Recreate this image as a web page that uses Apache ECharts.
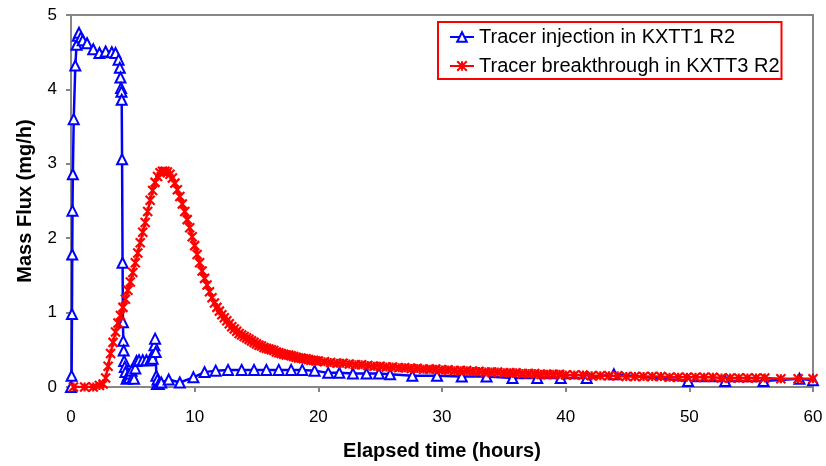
<!DOCTYPE html>
<html>
<head>
<meta charset="utf-8">
<script src="https://cdn.jsdelivr.net/npm/echarts@6/dist/echarts.min.js"></script>
<style>
html,body{margin:0;padding:0;background:#fff;}
#c{width:826px;height:466px;}
</style>
</head>
<body>
<div id="c"></div>
<script>
// ---- data ----
var seriesNames = ['Tracer injection in KXTT1 R2', 'Tracer breakthrough in KXTT3 R2'];
var xTicks = [0, 10, 20, 30, 40, 50, 60];
var yTicks = [0, 1, 2, 3, 4, 5];

var injTime = [0, 0.05, 0.08, 0.1, 0.12, 0.15, 0.22, 0.35, 0.45, 0.55, 0.65, 0.8, 0.95, 1.3, 1.8, 2.3, 2.8, 3.3, 3.6, 3.85, 3.95, 4.0, 4.05, 4.08, 4.1, 4.13, 4.17, 4.2, 4.23, 4.26, 4.3, 4.35, 4.4, 4.5, 4.6, 4.7, 4.8, 4.9, 5.0, 5.1, 5.2, 5.3, 5.5, 5.8, 6.1, 6.4, 6.6, 6.7, 6.75, 6.8, 6.85, 6.9, 6.95, 7.0, 7.1, 7.3, 7.9, 8.8, 9.9, 10.8, 11.7, 12.7, 13.8, 14.8, 15.8, 16.8, 17.8, 18.7, 19.7, 20.8, 21.7, 22.8, 23.9, 24.9, 25.8, 27.6, 29.6, 31.6, 33.6, 35.7, 37.7, 39.6, 41.7, 43.9, 49.9, 52.9, 56.0, 58.9, 60];
var injFlux = [0, 0.15, 0.98, 1.78, 2.37, 2.86, 3.6, 4.32, 4.6, 4.72, 4.76, 4.7, 4.66, 4.62, 4.54, 4.49, 4.51, 4.5, 4.49, 4.4, 4.29, 4.16, 4.02, 3.97, 3.86, 3.06, 1.67, 0.87, 0.62, 0.49, 0.35, 0.27, 0.2, 0.11, 0.15, 0.12, 0.18, 0.22, 0.13, 0.11, 0.25, 0.35, 0.36, 0.36, 0.36, 0.36, 0.38, 0.47, 0.56, 0.65, 0.47, 0.15, 0.04, 0.1, 0.04, 0.06, 0.1, 0.06, 0.13, 0.2, 0.22, 0.23, 0.23, 0.23, 0.23, 0.23, 0.23, 0.23, 0.22, 0.19, 0.19, 0.18, 0.18, 0.18, 0.17, 0.15, 0.15, 0.14, 0.14, 0.12, 0.12, 0.12, 0.12, 0.17, 0.08, 0.08, 0.08, 0.11, 0.09];

var brkTime = [0.2, 1.1, 1.8, 2.3, 2.6, 2.8, 3.0, 3.2, 3.4, 3.6, 3.8, 4.0, 4.2, 4.4, 4.6, 4.8, 5.0, 5.2, 5.4, 5.6, 5.8, 6.0, 6.2, 6.4, 6.6, 6.8, 7.0, 7.2, 7.4, 7.6, 7.8, 8.0, 8.2, 8.4, 8.6, 8.8, 9.0, 9.2, 9.4, 9.6, 9.8, 10.0, 10.2, 10.4, 10.6, 10.8, 11.0, 11.2, 11.4, 11.6, 11.8, 12.0, 12.2, 12.4, 12.6, 12.8, 13.0, 13.2, 13.4, 13.6, 13.8, 14.0, 14.2, 14.4, 14.6, 14.8, 15.0, 15.2, 15.4, 15.6, 15.8, 16.0, 16.2, 16.4, 16.6, 16.8, 17.0, 17.2, 17.4, 17.6, 17.8, 18.0, 18.2, 18.4, 18.6, 18.8, 19.0, 19.2, 19.4, 19.6, 19.8, 20.0, 20.5, 21, 21.5, 22, 22.5, 23, 23.5, 24, 24.5, 25, 25.5, 26, 26.5, 27, 27.5, 28, 28.5, 29, 29.5, 30, 30.5, 31, 31.5, 32, 32.5, 33, 33.5, 34, 34.5, 35, 35.5, 36, 36.5, 37, 37.5, 38, 38.5, 39, 39.5, 40, 40.7, 41.4, 42.1, 42.8, 43.5, 44.2, 44.9, 45.6, 46.3, 47, 47.7, 48.4, 49.1, 49.8, 50.5, 51.2, 51.9, 52.6, 53.3, 54, 54.7, 55.4, 56.1, 57.4, 58.8, 60];
var brkFlux = [0, 0, 0, 0.02, 0.04, 0.12, 0.28, 0.45, 0.6, 0.74, 0.86, 0.96, 1.07, 1.18, 1.3, 1.41, 1.54, 1.67, 1.8, 1.94, 2.08, 2.21, 2.36, 2.51, 2.64, 2.75, 2.83, 2.88, 2.9, 2.9, 2.89, 2.86, 2.81, 2.74, 2.65, 2.56, 2.46, 2.36, 2.25, 2.14, 2.02, 1.9, 1.78, 1.67, 1.56, 1.46, 1.37, 1.28, 1.2, 1.13, 1.07, 1.02, 0.97, 0.93, 0.89, 0.85, 0.81, 0.78, 0.75, 0.72, 0.7, 0.68, 0.66, 0.64, 0.62, 0.6, 0.58, 0.56, 0.55, 0.53, 0.52, 0.51, 0.5, 0.49, 0.47, 0.46, 0.45, 0.44, 0.43, 0.43, 0.42, 0.41, 0.4, 0.39, 0.39, 0.38, 0.38, 0.37, 0.36, 0.36, 0.35, 0.35, 0.34, 0.33, 0.32, 0.32, 0.31, 0.3, 0.3, 0.29, 0.28, 0.28, 0.27, 0.27, 0.26, 0.26, 0.25, 0.25, 0.24, 0.24, 0.24, 0.23, 0.23, 0.22, 0.22, 0.22, 0.21, 0.21, 0.2, 0.2, 0.2, 0.19, 0.19, 0.19, 0.18, 0.18, 0.18, 0.17, 0.17, 0.17, 0.17, 0.16, 0.16, 0.16, 0.15, 0.15, 0.15, 0.15, 0.14, 0.14, 0.14, 0.14, 0.14, 0.13, 0.13, 0.13, 0.13, 0.13, 0.13, 0.12, 0.12, 0.12, 0.12, 0.12, 0.12, 0.11, 0.11, 0.11];

function zip(a, b) { var r = []; for (var i = 0; i < a.length; i++) r.push([a[i], b[i]]); return r; }

var FONT = '"Liberation Sans", Arial, sans-serif';
var GREY = '#868686';
var chart = echarts.init(document.getElementById('c'), null, { renderer: 'canvas' });
chart.setOption({
  animation: false,
  backgroundColor: '#ffffff',
  textStyle: { fontFamily: FONT },
  grid: { left: 71, right: 13, top: 15, bottom: 78, show: true, borderColor: GREY, borderWidth: 2, backgroundColor: 'transparent' },
  legend: {
    left: 438, top: 22, orient: 'vertical',
    data: seriesNames,
    borderColor: '#ff0000', borderWidth: 2, backgroundColor: '#ffffff',
    padding: [5, 2, 3, 11], itemGap: 9,
    itemWidth: 24, itemHeight: 12,
    textStyle: { fontFamily: FONT, fontSize: 20, color: '#000' }
  },
  xAxis: {
    type: 'value', min: xTicks[0], max: xTicks[xTicks.length - 1], interval: 10,
    name: 'Elapsed time (hours)', nameLocation: 'middle', nameGap: 54,
    nameTextStyle: { fontFamily: FONT, fontSize: 20, fontWeight: 'bold', color: '#000' },
    axisLine: { show: true, lineStyle: { color: GREY, width: 2 } },
    axisTick: { show: true, inside: false, length: 5, lineStyle: { color: GREY, width: 2 } },
    axisLabel: { margin: 22, fontFamily: FONT, fontSize: 17, color: '#000' },
    splitLine: { show: false }
  },
  yAxis: {
    type: 'value', min: yTicks[0], max: yTicks[yTicks.length - 1], interval: 1,
    name: 'Mass Flux (mg/h)', nameLocation: 'middle', nameGap: 36, nameRotate: 90,
    nameTextStyle: { fontFamily: FONT, fontSize: 20, fontWeight: 'bold', color: '#000' },
    axisLine: { show: true, lineStyle: { color: GREY, width: 2 } },
    axisTick: { show: true, inside: false, length: 5, lineStyle: { color: GREY, width: 2 } },
    axisLabel: { margin: 14, fontFamily: FONT, fontSize: 17, color: '#000' },
    splitLine: { show: false }
  },
  series: [
    {
      name: seriesNames[0], type: 'line', color: '#0000ff',
      data: zip(injTime, injFlux),
      symbol: 'emptyTriangle', symbolSize: 10, showAllSymbol: true,
      lineStyle: { color: '#0000ff', width: 2.5 },
      itemStyle: { color: '#0000ff', borderColor: '#0000ff', borderWidth: 2 },
      z: 2
    },
    {
      name: seriesNames[1], type: 'line', color: '#ff0000',
      data: zip(brkTime, brkFlux),
      symbol: 'path://M0,0L8,8M8,0L0,8M4,0L4,8', symbolSize: 9, showAllSymbol: true,
      lineStyle: { color: '#ff0000', width: 2.5 },
      itemStyle: { color: '#ff0000', borderColor: '#ff0000', borderWidth: 2.2 },
      z: 3
    }
  ]
});
</script>
</body>
</html>
